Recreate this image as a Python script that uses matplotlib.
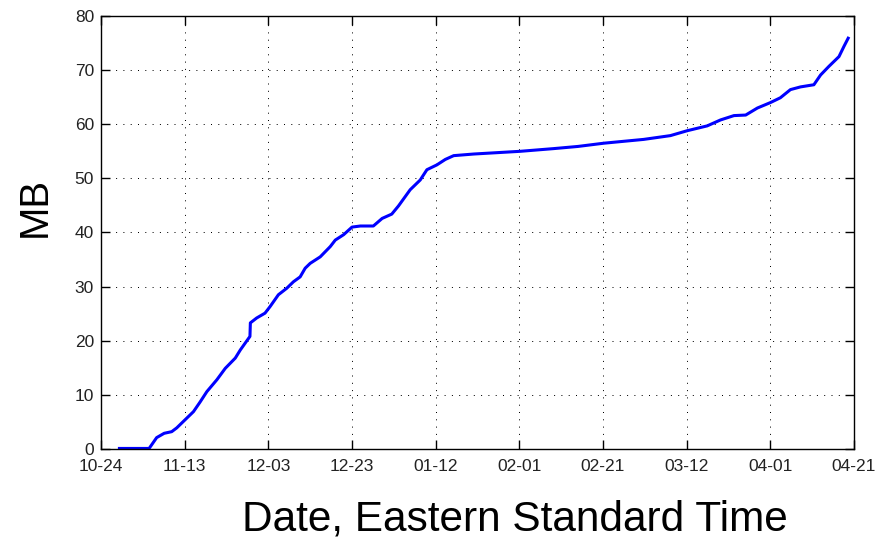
import numpy as np
import matplotlib
matplotlib.use('Agg')
import matplotlib.pyplot as plt
import matplotlib.dates as mdates

# cumulative MB vs. days since 2011-10-24
start_date = np.datetime64('2011-10-24')
days = [4.4, 11.5, 13.3, 15.1, 16.9, 18.1, 20.1, 22.1, 23.7, 25.3, 27.7, 29.7,
        32.1, 33.3, 35.6, 35.7, 37.2, 39.2, 40.4, 42.4, 44.4, 46.0, 47.6, 48.8,
        50.0, 52.4, 54.8, 56.0, 58.0, 60.0, 62.0, 65.1, 67.2, 69.5, 71.1, 73.9,
        76.3, 77.9, 80.3, 82.3, 84.3, 89.1, 100.2, 108.2, 114.0, 120.2, 129.7,
        136.1, 140.1, 144.9, 148.1, 151.3, 154.1, 156.9, 160.0, 162.4, 164.8,
        167.2, 170.4, 172.0, 174.0, 176.4, 177.6, 178.6]
mb = [0.1, 0.1, 2.1, 2.9, 3.2, 3.9, 5.4, 6.9, 8.7, 10.6, 12.8, 14.9,
      16.8, 18.3, 20.8, 23.3, 24.2, 25.1, 26.3, 28.5, 29.7, 30.9, 31.8, 33.4,
      34.3, 35.5, 37.4, 38.6, 39.6, 41.0, 41.2, 41.2, 42.6, 43.4, 44.9, 47.9,
      49.7, 51.6, 52.5, 53.5, 54.2, 54.5, 55.0, 55.5, 55.9, 56.5, 57.2,
      57.9, 58.8, 59.7, 60.8, 61.6, 61.7, 63.0, 64.0, 64.9, 66.4,
      66.9, 67.3, 69.1, 70.7, 72.5, 74.4, 75.9]
tick_step_days = 20
n_ticks = 10
y_ticks = list(range(0, 81, 10))

dates = start_date + (np.array(days) * 24 * 3600).astype('timedelta64[s]')
tick_dates = start_date + np.arange(n_ticks) * np.timedelta64(tick_step_days, 'D')

fig = plt.figure(figsize=(8.83, 5.39), dpi=100)
ax = fig.add_axes([0.1144, 0.1670, 0.8528, 0.8033])

ax.plot(dates.astype('datetime64[ms]').astype(object), mb, color='#0000ff', lw=2.2)

ax.set_xlim(tick_dates[0].astype(object), tick_dates[-1].astype(object))
ax.set_ylim(0, 80)
ax.set_xticks([d.astype(object) for d in tick_dates])
ax.xaxis.set_major_formatter(mdates.DateFormatter('%m-%d'))
ax.set_yticks(y_ticks)

ax.grid(True, color='black', lw=0.72, linestyle=(0, (1, 6.3)))
ax.tick_params(direction='in', length=6.5, width=1.0, top=True, right=True,
               labelsize=12.5, colors='black')
ax.tick_params(axis='x', pad=7)
ax.tick_params(axis='y', pad=5)
for lab in ax.get_xticklabels() + ax.get_yticklabels():
    lab.set_family('Liberation Sans')
    lab.set_color('#222222')
for s in ax.spines.values():
    s.set_linewidth(1.0)

fig.text(514.5 / 883, 1 - 519 / 539, 'Date, Eastern Standard Time',
         fontsize=30.5, family='Liberation Sans', ha='center', va='center')
fig.text(35 / 883, 1 - 207 / 539, 'MB', fontsize=29, family='Liberation Sans',
         rotation=90, ha='center', va='center')

fig.savefig('out.png', dpi=100)
